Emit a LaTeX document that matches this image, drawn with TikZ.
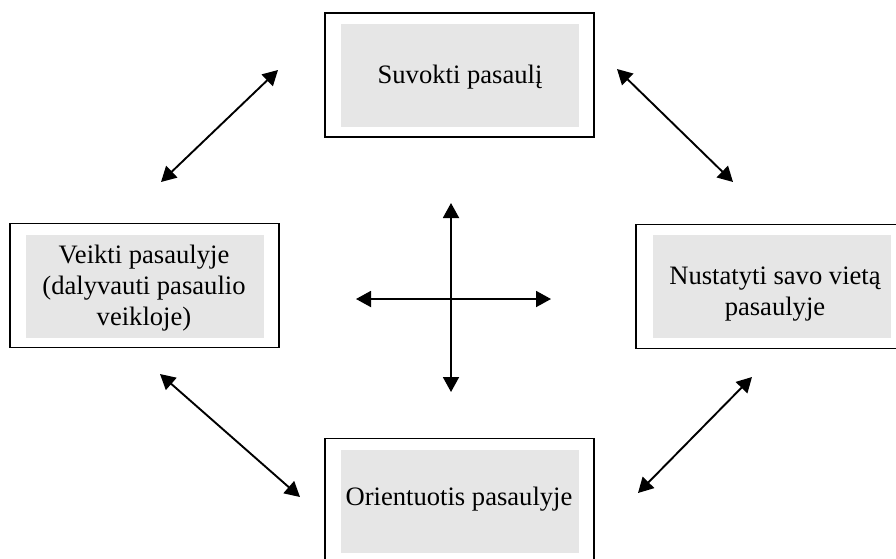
\documentclass[tikz,border=0pt]{standalone}
\usepackage{fontspec}
\setmainfont{Liberation Serif}
\usetikzlibrary{arrows.meta}
\definecolor{panelgray}{HTML}{E6E6E6}
\begin{document}
\begin{tikzpicture}[x=1pt,y=-1pt,
  frame/.style={draw=black,line width=1.6pt,minimum width=269pt,minimum height=124pt,inner sep=0pt,outer sep=0pt},
  panel/.style={fill=panelgray,minimum width=238pt,minimum height=103pt,inner sep=0pt,outer sep=0pt},
  caption/.style={align=center,inner sep=0pt,font=\fontsize{26.6pt}{30.6pt}\selectfont},
  link/.style={line width=1.9pt,{Triangle[length=15pt,width=16pt]}-{Triangle[length=15pt,width=16pt]}}
]
\useasboundingbox (0,0) rectangle (896,558);
\clip (0,0) rectangle (896,558);

% outer frames
\node[frame] (topF)    at (459.5,75)    {};
\node[frame] (leftF)   at (144.5,285.5) {};
\node[frame] (rightF)  at (770.5,286.5) {};
\node[frame] (bottomF) at (459.5,500.5) {};

% shaded panels inside the frames
\node[panel] (topP)    at (460,75)    {};
\node[panel] (leftP)   at (144.5,286) {};
\node[panel] (rightP)  at (772,286.5) {};
\node[panel] (bottomP) at (460,501)   {};

% captions
\node[caption] (topT)    at (460,77)  {Suvokti pasaulį};
\node[caption] (leftT)   at (144,288) {Veikti pasaulyje\\(dalyvauti pasaulio\\veikloje)};
\node[caption] (rightT)  at (775,294) {Nustatyti savo vietą\\pasaulyje};
\node[caption] (bottomT) at (459,499) {Orientuotis pasaulyje};

% diagonal arrow ends
\coordinate (tlA) at (161,182);
\coordinate (tlB) at (278,70);
\coordinate (trA) at (617,69);
\coordinate (trB) at (733,182);
\coordinate (blA) at (160,374);
\coordinate (blB) at (300,497);
\coordinate (brA) at (638,493);
\coordinate (brB) at (752,377);

% central cross ends
\coordinate (cN) at (451,203);
\coordinate (cS) at (451,392);
\coordinate (cW) at (356,299);
\coordinate (cE) at (551,299);

\draw[link] (tlA) -- (tlB);
\draw[link] (trA) -- (trB);
\draw[link] (blA) -- (blB);
\draw[link] (brA) -- (brB);
\draw[link] (cN) -- (cS);
\draw[link] (cW) -- (cE);
\end{tikzpicture}
\end{document}
